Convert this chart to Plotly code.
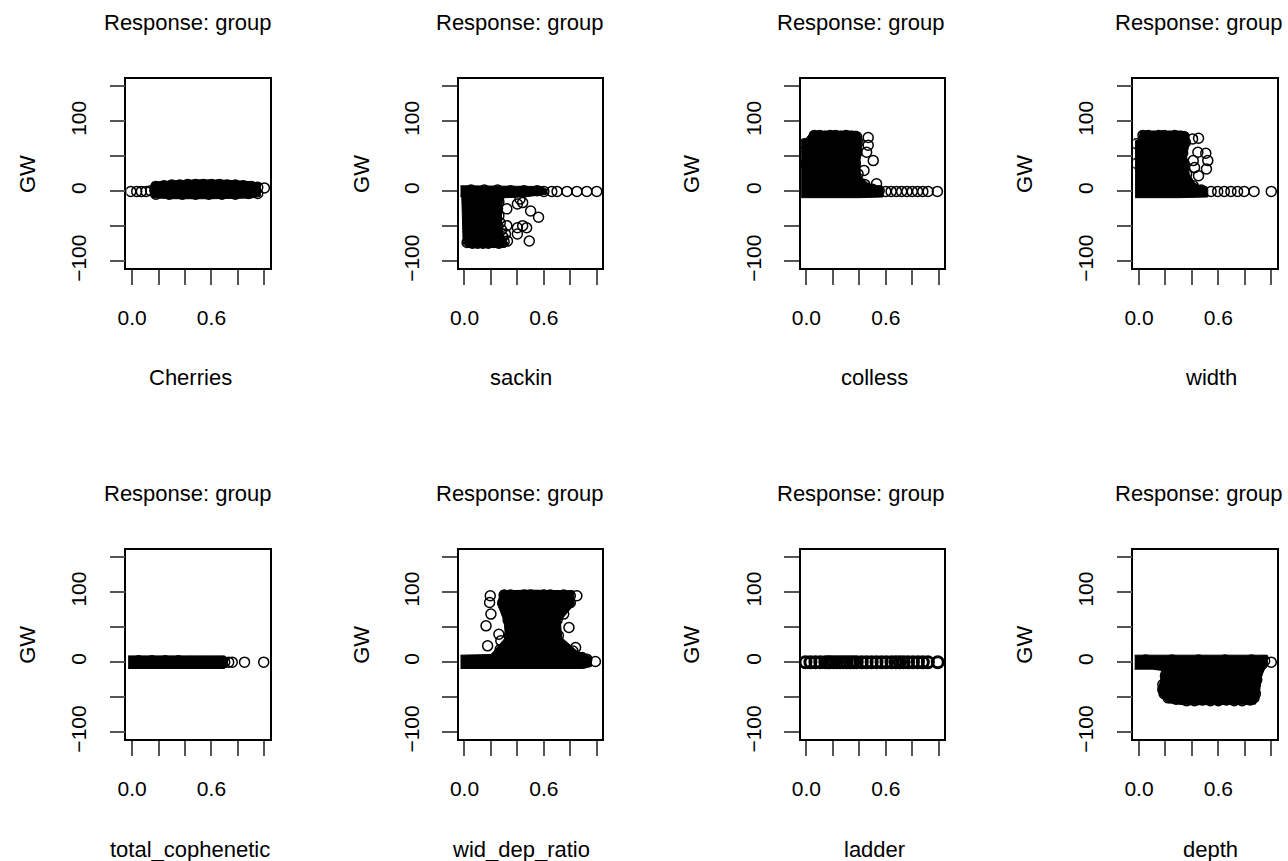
import plotly.graph_objects as go

# ---------------- data ----------------
panel_names = ["Cherries", "sackin", "colless", "width",
               "total_cophenetic", "wid_dep_ratio", "ladder", "depth"]
panel_title = "Response: group"
y_label = "GW"

x_tick_vals = [0.0, 0.2, 0.4, 0.6, 0.8, 1.0]
x_tick_text = ["0.0", "", "", "0.6", "", ""]
y_tick_vals = [-100, -50, 0, 50, 100, 150]
y_tick_text = ["\u2212100", "", "0", "", "100", ""]

# dense (overplotted) regions as outline polygons, edge circles and distinct circles
cherries_core_x = [0.15, 0.30, 0.50, 0.70, 0.90, 0.97, 0.97, 0.90, 0.60, 0.30, 0.15, 0.13]
cherries_core_y = [13, 15, 16.5, 16, 14, 11, -7, -9.5, -10.5, -10.5, -9, 2]
cherries_edge_x = [0.18, 0.24, 0.30, 0.36, 0.42, 0.48, 0.54, 0.60, 0.66, 0.72, 0.78, 0.84, 0.90, 0.95,
                   0.18, 0.28, 0.38, 0.48, 0.58, 0.68, 0.78, 0.88, 0.95]
cherries_edge_y = [7, 8, 9, 9, 10, 10, 10, 10, 10, 9, 9, 8, 7, 6,
                   -4, -4, -4, -4, -4, -4, -4, -3, -3]
cherries_pts_x = [-0.01, 0.035, 0.07, 0.105, 0.14, 1.0]
cherries_pts_y = [0, 0, 0, 0, 1, 5]

sackin_core_x = [-0.03, 0.30, 0.58, 0.62, 0.62, 0.45, 0.30, 0.28, 0.28, 0.30, 0.33, 0.31, 0.02, -0.01, -0.02, -0.03]
sackin_core_y = [8, 8, 7, 3, -4, -8, -9, -20, -50, -65, -75, -80, -80, -75, -10, -6]
sackin_edge_x = [0.02, 0.06, 0.10, 0.14, 0.18, 0.22, 0.26, 0.30,
                 0.26, 0.25, 0.26, 0.27, 0.28, 0.29,
                 0.05, 0.15, 0.25, 0.35, 0.45, 0.55, 0.60]
sackin_edge_y = [-73, -74, -74, -74, -74, -73, -74, -72,
                 -15, -25, -35, -45, -55, -65,
                 2, 2, 2, 1, 1, 1, 0]
sackin_pts_x = [0.32, 0.40, 0.44, 0.50, 0.56, 0.32, 0.40, 0.44, 0.47, 0.40, 0.49, 0.31, 0.325, 0.42,
                0.66, 0.70, 0.775, 0.85, 0.925, 1.0]
sackin_pts_y = [-25, -18, -16, -28, -37, -49, -52, -49, -52, -61, -71, -61, -71, -11,
                0, 0, 0, 0, 0, 0]

colless_core_x = [-0.04, 0.00, 0.04, 0.38, 0.41, 0.42, 0.40, 0.41, 0.46, 0.52, 0.57, 0.58, 0.58, 0.40, -0.04]
colless_core_y = [72, 76, 86, 86, 82, 60, 40, 22, 12, 8, 7, 3, -8, -9, -9]
colless_edge_x = [0.06, 0.10, 0.14, 0.18, 0.22, 0.26, 0.30, 0.34, 0.38,
                  0.39, 0.38, 0.37, 0.39, 0.44, 0.50, 0.55]
colless_edge_y = [80, 80, 79, 80, 80, 79, 80, 79, 78,
                  70, 55, 40, 25, 10, 3, 1]
colless_pts_x = [0.467, 0.467, 0.455, 0.505, 0.435, 0.53, -0.015, 0.0, -0.02,
                 0.60, 0.64, 0.68, 0.72, 0.76, 0.80, 0.84, 0.88, 0.92, 0.99]
colless_pts_y = [77, 66, 56, 44, 30, 11, 68, 38, 50,
                 0, 0, 0, 0, 0, 0, 0, 0, 0, 0]

width_core_x = [-0.03, 0.00, 0.01, 0.33, 0.37, 0.38, 0.36, 0.38, 0.42, 0.46, 0.51, 0.52, 0.52, 0.30, -0.03]
width_core_y = [72, 74, 86, 86, 84, 70, 50, 25, 12, 8, 7, 3, -8, -9, -9]
width_edge_x = [0.03, 0.07, 0.11, 0.15, 0.19, 0.23, 0.27, 0.31, 0.34,
                0.35, 0.33, 0.34, 0.36, 0.41, 0.47]
width_edge_y = [80, 80, 79, 80, 80, 79, 80, 79, 78,
                70, 55, 40, 25, 8, 2]
width_pts_x = [0.445, 0.505, 0.52, 0.51, 0.42, 0.45, 0.41, 0.45, 0.405, -0.02, -0.02,
               0.545, 0.595, 0.645, 0.695, 0.745, 0.795, 0.87, 1.0]
width_pts_y = [56, 54.5, 44, 32, 34, 22.5, 44, 76, 75, 68, 40,
               0, 0, 0, 0, 0, 0, 0, 0]

cophen_core_x = [-0.03, 0.70, 0.72, 0.72, 0.70, -0.03]
cophen_core_y = [9, 9, 5, -5, -9, -9]
cophen_edge_x = [0.05, 0.15, 0.25, 0.35, 0.45, 0.55, 0.65, 0.70]
cophen_edge_y = [2, 2, 2, 2, 1, 1, 1, 0]
cophen_pts_x = [0.73, 0.757, 0.85, 0.995]
cophen_pts_y = [0, 0, 0, 0]

wdr_core_x = [-0.03, 0.20, 0.225, 0.31, 0.30, 0.25, 0.275, 0.50, 0.825, 0.83, 0.725, 0.735, 0.85, 0.93, 0.96, 0.96, 0.90, -0.03]
wdr_core_y = [10, 11, 16, 35, 59, 83, 102, 103, 102, 83, 59, 35, 16, 10, 6, -6, -9, -9]
wdr_edge_x = [0.30, 0.35, 0.40, 0.45, 0.50, 0.55, 0.60, 0.65, 0.70, 0.75, 0.80,
              0.29, 0.33, 0.34, 0.27, 0.80, 0.70, 0.71, 0.82, 0.05, 0.12, 0.19]
wdr_edge_y = [96, 96, 95, 96, 96, 95, 96, 96, 95, 96, 95,
              85, 60, 38, 18, 85, 60, 38, 16, 2, 2, 3]
wdr_pts_x = [0.195, 0.19, 0.20, 0.163, 0.175, 0.26, 0.275, 0.85, 0.79, 0.75, 0.84, 0.89, 0.925, 0.99]
wdr_pts_y = [95, 85.4, 68.8, 52, 23.4, 40, 30.5, 95, 49.6, 68.8, 21, 6.6, 4.3, 1]

ladder_core_x = []
ladder_core_y = []
ladder_edge_x = []
ladder_edge_y = []
ladder_pts_x = [-0.0075, 0.03, 0.068, 0.105, 0.143, 0.165, 0.18, 0.205, 0.23, 0.255, 0.28, 0.305, 0.33, 0.355,
                0.38, 0.418, 0.455, 0.493, 0.53, 0.568, 0.605, 0.643, 0.675, 0.705, 0.735, 0.768, 0.805,
                0.843, 0.88, 0.918, 0.993]
ladder_pts_y = [0] * len(ladder_pts_x)

depth_core_x = [-0.033, 0.97, 0.97, 0.95, 0.93, 0.905, 0.88, 0.34, 0.22, 0.16, 0.145, 0.17, 0.18, 0.10, -0.033]
depth_core_y = [10, 10, -6, -10, -17, -50, -60, -61, -58, -48, -40, -20, -12, -10, -10]
depth_edge_x = [0.36, 0.42, 0.48, 0.54, 0.60, 0.66, 0.72, 0.78, 0.84,
                0.19, 0.18, 0.20, 0.88, 0.89, 0.90,
                0.05, 0.25, 0.45, 0.65, 0.85, 0.95]
depth_edge_y = [-55, -55, -54, -55, -55, -54, -55, -55, -54,
                -45, -32, -20, -45, -25, -12,
                3, 3, 3, 3, 3, 2]
depth_pts_x = [0.205, 0.23, 0.18, 0.255, 0.22, 0.28, 0.87, 0.845, 0.87, 0.805, 0.895, 0.9, 1.0]
depth_pts_y = [-17, -29, -39, -41, -51, -53, -31.5, -41, -50.7, -27, -15, -9, 0]

cores = [(cherries_core_x, cherries_core_y), (sackin_core_x, sackin_core_y),
         (colless_core_x, colless_core_y), (width_core_x, width_core_y),
         (cophen_core_x, cophen_core_y), (wdr_core_x, wdr_core_y),
         (ladder_core_x, ladder_core_y), (depth_core_x, depth_core_y)]
edges = [(cherries_edge_x, cherries_edge_y), (sackin_edge_x, sackin_edge_y),
         (colless_edge_x, colless_edge_y), (width_edge_x, width_edge_y),
         (cophen_edge_x, cophen_edge_y), (wdr_edge_x, wdr_edge_y),
         (ladder_edge_x, ladder_edge_y), (depth_edge_x, depth_edge_y)]
points = [(cherries_pts_x, cherries_pts_y), (sackin_pts_x, sackin_pts_y),
          (colless_pts_x, colless_pts_y), (width_pts_x, width_pts_y),
          (cophen_pts_x, cophen_pts_y), (wdr_pts_x, wdr_pts_y),
          (ladder_pts_x, ladder_pts_y), (depth_pts_x, depth_pts_y)]

# ---------------- layout geometry (pixels, reference frame 1288 x 861) ----------------
W, H_REF = 1288, 861
H = 876  # canvas height; layout positions are given in the reference frame
X_SHIFT, X_SCALE = 8.9, 0.9931  # observed horizontal placement of the page in the capture
col_left = [126.3, 458.7, 800.7, 1133.3]
box_w = 143.7
row_top = [79.3, 549.0]
box_h = 188.4
title_x = [188, 520, 861, 1199]
title_y = [22, 492]
xlab_x = [190, 521, 874, 1211]
xlab_y = [377, 848]
gw_x = [28, 362, 692, 1025]

FONT = "Liberation Sans, Arial, Helvetica, sans-serif"
fs_tick = 21
fs_text = 22


def xp(px):
    """paper x for a pixel column given in the reference frame"""
    return ((px - X_SHIFT) / X_SCALE) / W


def yp(py):
    """paper y for a pixel row given in the reference frame"""
    return 1 - py / H_REF


fig = go.Figure()
annotations = []
layout_axes = {}

for i, name in enumerate(panel_names):
    r, c = divmod(i, 4)
    k = i + 1
    xa = "x" if k == 1 else f"x{k}"
    ya = "y" if k == 1 else f"y{k}"
    cx, cy = cores[i]
    if cx:
        fig.add_trace(go.Scatter(x=cx, y=cy, mode="lines", fill="toself",
                                 fillcolor="black", line=dict(color="black", width=1),
                                 xaxis=xa, yaxis=ya, hoverinfo="skip", showlegend=False))
    is_ladder = name == "ladder"
    lw = 3.0 if is_ladder else 1.5
    ms = 11 if is_ladder else 10
    ex, ey = edges[i]
    px, py = points[i]
    fig.add_trace(go.Scatter(x=ex + px, y=ey + py, mode="markers",
                             marker=dict(symbol="circle-open", size=ms, color="black",
                                         line=dict(width=lw, color="black")),
                             xaxis=xa, yaxis=ya, showlegend=False))

    l = col_left[c]
    t = row_top[r]
    xkey = "xaxis" if k == 1 else f"xaxis{k}"
    ykey = "yaxis" if k == 1 else f"yaxis{k}"
    layout_axes[xkey] = dict(
        domain=[xp(l), xp(l + box_w)], anchor=ya,
        range=[-0.0432, 1.0432], showgrid=False, zeroline=False,
        showline=True, mirror=True, linecolor="black", linewidth=1.5,
        ticks="outside", ticklen=15, tickwidth=2, tickcolor="#555",
        tickvals=x_tick_vals, ticktext=x_tick_text,
        tickfont=dict(family=FONT, size=fs_tick, color="black"),
        ticklabelstandoff=15,
    )
    layout_axes[ykey] = dict(
        domain=[yp(t + box_h), yp(t)], anchor=xa,
        range=[-110, 160], showgrid=False, zeroline=False,
        showline=True, mirror=True, linecolor="black", linewidth=1.5,
        ticks="outside", ticklen=15, tickwidth=2, tickcolor="#555",
        tickvals=y_tick_vals, ticktext=y_tick_text, tickangle=-90,
        tickfont=dict(family=FONT, size=fs_tick, color="black"),
        ticklabelstandoff=15,
    )
    annotations.append(dict(text=panel_title, x=xp(title_x[c]), y=yp(title_y[r]),
                            xref="paper", yref="paper", showarrow=False,
                            xanchor="center", yanchor="middle",
                            font=dict(family=FONT, size=fs_text, color="black")))
    annotations.append(dict(text=name, x=xp(xlab_x[c]), y=yp(xlab_y[r]),
                            xref="paper", yref="paper", showarrow=False,
                            xanchor="center", yanchor="middle",
                            font=dict(family=FONT, size=fs_text, color="black")))
    annotations.append(dict(text=y_label, x=xp(gw_x[c]), y=yp(t + box_h / 2),
                            xref="paper", yref="paper", showarrow=False, textangle=-90,
                            xanchor="center", yanchor="middle",
                            font=dict(family=FONT, size=fs_text, color="black")))

fig.update_layout(
    width=W, height=H, autosize=False,
    margin=dict(l=0, r=0, t=0, b=0),
    paper_bgcolor="white", plot_bgcolor="white",
    annotations=annotations,
    **layout_axes,
)

fig.write_html(
    "out.html",
    config={"displayModeBar": False},
    post_script=(
        "document.documentElement.style.margin='0';"
        "document.documentElement.style.overflow='hidden';"
        "document.body.style.margin='0';"
        "document.body.style.overflow='hidden';"
    ),
)
